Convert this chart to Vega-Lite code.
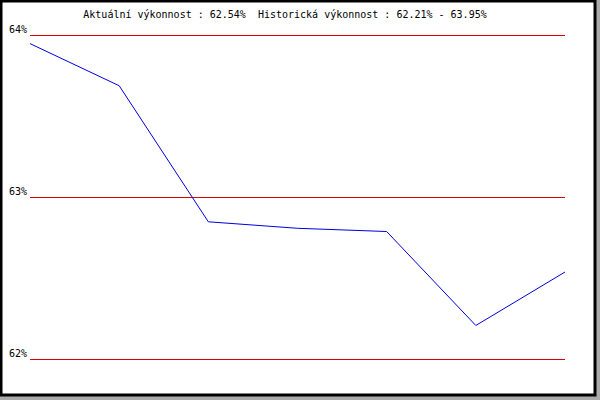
{
  "$schema": "https://vega.github.io/schema/vega-lite/v6.json",
  "width": 594,
  "height": 394,
  "padding": {"left": 1, "top": 1, "right": 5, "bottom": 5},
  "autosize": {"type": "none"},
  "background": "#aaaaaa",
  "config": {
    "view": {"fill": "white", "stroke": "black", "strokeWidth": 3},
    "font": "DejaVu Sans Mono"
  },
  "title": {
    "text": "Aktuální výkonnost : 62.54%\u00a0 Historická výkonnost : 62.21% - 63.95%",
    "font": "DejaVu Sans Mono",
    "fontSize": 10,
    "fontWeight": "normal",
    "color": "black",
    "anchor": "middle",
    "frame": "group",
    "orient": "top",
    "baseline": "alphabetic",
    "offset": -17,
    "dx": -13,
    "dy": 10
  },
  "datasets": {
    "perf": [
      {"i": 0, "v": 63.95},
      {"i": 1, "v": 63.69},
      {"i": 2, "v": 62.85},
      {"i": 3, "v": 62.81},
      {"i": 4, "v": 62.79},
      {"i": 5, "v": 62.21},
      {"i": 6, "v": 62.54}
    ],
    "grid": [
      {"v": 62, "label": "62%", "start": 0, "end": 6},
      {"v": 63, "label": "63%", "start": 0, "end": 6},
      {"v": 64, "label": "64%", "start": 0, "end": 6}
    ]
  },
  "layer": [
    {
      "data": {"name": "grid"},
      "mark": {"type": "rule", "color": "#dd0000", "strokeWidth": 1},
      "encoding": {
        "x": {"field": "start", "type": "quantitative", "scale": {"domain": [-0.3252, 6.3365], "nice": false, "zero": false}, "axis": null},
        "x2": {"field": "end"},
        "y": {"field": "v", "type": "quantitative", "scale": {"domain": [61.7809, 64.213], "nice": false, "zero": false}, "axis": null}
      }
    },
    {
      "data": {"name": "grid"},
      "mark": {"type": "text", "align": "right", "baseline": "alphabetic", "dx": -3, "dy": -3, "fontSize": 10, "font": "DejaVu Sans Mono", "color": "black"},
      "encoding": {
        "x": {"field": "start", "type": "quantitative"},
        "y": {"field": "v", "type": "quantitative"},
        "text": {"field": "label"}
      }
    },
    {
      "data": {"name": "perf"},
      "mark": {"type": "line", "color": "#0000dd", "strokeWidth": 1},
      "encoding": {
        "x": {"field": "i", "type": "quantitative"},
        "y": {"field": "v", "type": "quantitative"}
      }
    }
  ]
}
